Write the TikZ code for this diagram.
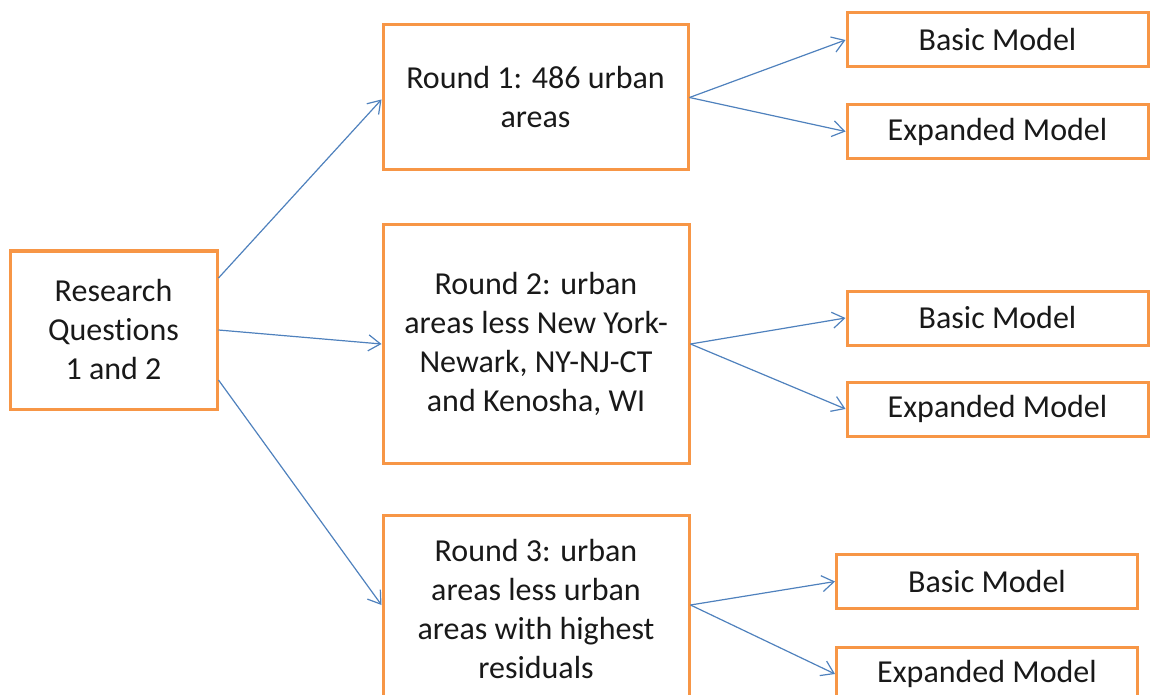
\documentclass[tikz,border=0pt]{standalone}
\usepackage{fontspec}
\setmainfont{Carlito}[RawFeature={-liga;-clig;-calt}]
\usepackage{xcolor}
\usetikzlibrary{arrows.meta}
\definecolor{boxorange}{HTML}{F79646}
\definecolor{arrowblue}{HTML}{4F81BD}
\begin{document}
\begin{tikzpicture}[x=0.5pt, y=-0.5pt, >={Straight Barb[length=6pt,width=8pt]},
  font=\fontsize{16}{19.5}\selectfont,
  box/.style={draw=boxorange, line width=1.5pt, align=center, inner sep=0pt, text=black!90},
  model/.style={box, minimum width=150.5pt, minimum height=27pt},
  flow/.style={->, draw=arrowblue, line width=0.6pt}]
\useasboundingbox (0,0) rectangle (1150,695);
\clip (0,0) rectangle (1150,695);
\node[box, minimum width=103.5pt, minimum height=79pt] (rq) at (113.5,330) {Research\\Questions\\1 and 2};
\node[box, minimum width=152.5pt, minimum height=72.5pt] (r1) at (535.5,97.5) {Round 1: 486 urban\\areas};
\node[box, minimum width=153pt, minimum height=119pt] (r2) at (536,344) {Round 2: urban\\areas less New York-\\Newark, NY-NJ-CT\\and Kenosha, WI};
\node[box, minimum width=153pt, minimum height=94pt] (r3) at (536,609) {Round 3: urban\\areas less urban\\areas with highest\\residuals};
\node[model] (b1) at (997.5,40)    {Basic Model};
\node[model] (e1) at (997.5,131.5) {Expanded Model};
\node[model] (b2) at (997.5,318)   {Basic Model};
\node[model] (e2) at (997.5,409)   {Expanded Model};
\node[model] (b3) at (987,581.5)   {Basic Model};
\node[model] (e3) at (987,674)     {Expanded Model};

\draw[flow] ([yshift=26pt]rq.east) -- ([yshift=-1pt]r1.west);
\draw[flow] (rq.east) -- (r2.west);
\draw[flow] ([yshift=-25pt]rq.east) -- ([yshift=2pt]r3.west);
\draw[flow] (r1.east) -- (b1.west);
\draw[flow] (r1.east) -- (e1.west);
\draw[flow] (r2.east) -- (b2.west);
\draw[flow] (r2.east) -- (e2.west);
\draw[flow] ([yshift=2pt]r3.east) -- (b3.west);
\draw[flow] ([yshift=2pt]r3.east) -- (e3.west);
\end{tikzpicture}
\end{document}
